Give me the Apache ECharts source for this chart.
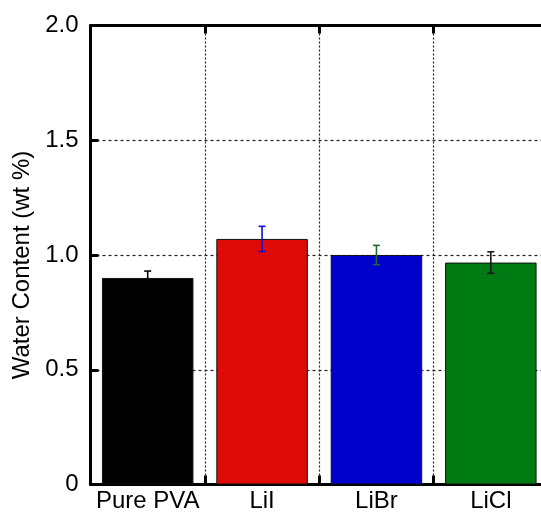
<!DOCTYPE html>
<html>
<head>
<meta charset="utf-8">
<script src="https://cdn.jsdelivr.net/npm/echarts@6/dist/echarts.min.js"></script>
<style>
  html, body { margin: 0; padding: 0; background: #fff; }
  #chart { width: 541px; height: 514px; }
</style>
</head>
<body>
<div id="chart"></div>
<script>
// Water content of PVA films with different lithium salts
const categories = ['Pure PVA', 'LiI', 'LiBr', 'LiCl'];
const waterContent = [0.90, 1.07, 1.00, 0.967];
const waterError = [0.03, 0.055, 0.042, 0.047];
const barColors = ['#000000', '#dd0a08', '#0000cc', '#007a12'];
const errorColors = ['#000000', '#1010e0', '#1d6b2c', '#1a1a1a'];
const yTicks = [0, 0.5, 1.0, 1.5, 2.0];

const FONT = 'Liberation Sans, Arial, sans-serif';
const chart = echarts.init(document.getElementById('chart'), null, { renderer: 'canvas' });

const errorData = categories.map((c, i) => [i, waterContent[i] - waterError[i], waterContent[i] + waterError[i]]);

chart.setOption({
  animation: false,
  backgroundColor: '#ffffff',
  grid: { left: 90.5, right: -7, top: 25.5, bottom: 29.5, containLabel: false, outerBoundsMode: 'none' },
  xAxis: [
    {
      type: 'category',
      data: categories,
      position: 'bottom',
      axisLine: { onZero: false, lineStyle: { color: '#000', width: 3 } },
      axisTick: { show: true, inside: true, interval: 0, length: 9, lineStyle: { color: '#000', width: 3 } },
      axisLabel: { color: '#000', fontSize: 24, fontFamily: FONT, margin: 5, interval: 0 },
      splitLine: { show: true, interval: 0, lineStyle: { color: '#222', width: 1.2, type: [2, 2] } }
    },
    {
      type: 'category',
      data: categories,
      position: 'top',
      axisLine: { onZero: false, lineStyle: { color: '#000', width: 3 } },
      axisTick: { show: true, inside: true, interval: 0, length: 8, lineStyle: { color: '#000', width: 3 } },
      axisLabel: { show: false },
      splitLine: { show: false }
    }
  ],
  yAxis: [
    {
      type: 'value',
      min: 0,
      max: 2.0,
      interval: 0.5,
      axisLine: { show: true, onZero: false, lineStyle: { color: '#000', width: 3 } },
      axisTick: { show: true, inside: true, length: 8, lineStyle: { color: '#000', width: 3 } },
      axisLabel: {
        color: '#000', fontSize: 24, fontFamily: FONT, margin: 12,
        formatter: v => {
          const t = yTicks.find(x => Math.abs(x - v) < 1e-9);
          return t === 0 ? '0' : t.toFixed(1);
        }
      },
      splitLine: { show: true, lineStyle: { color: '#222', width: 1.2, type: [3, 3] } },
      name: 'Water Content (wt %)',
      nameLocation: 'middle',
      nameGap: 55,
      nameRotate: 90,
      nameTextStyle: { color: '#000', fontSize: 24, fontFamily: FONT, padding: [0, 20, 0, 0] }
    },
    {
      type: 'value',
      min: 0,
      max: 2.0,
      interval: 0.5,
      position: 'right',
      axisLine: { show: true, onZero: false, lineStyle: { color: '#000', width: 3 } },
      axisTick: { show: false },
      axisLabel: { show: false },
      splitLine: { show: false }
    }
  ],
  series: [
    {
      type: 'bar',
      xAxisIndex: 0,
      yAxisIndex: 0,
      barWidth: '80%',
      data: waterContent.map((v, i) => ({
        value: v,
        itemStyle: { color: barColors[i], borderColor: '#111', borderWidth: 1 }
      })),
      z: 3
    },
    {
      type: 'custom',
      xAxisIndex: 0,
      yAxisIndex: 0,
      data: errorData,
      z: 4,
      renderItem: (params, api) => {
        const i = api.value(0);
        const lo = api.coord([i, api.value(1)]);
        const hi = api.coord([i, api.value(2)]);
        const hw = 3.5;
        const style = { stroke: errorColors[i], lineWidth: 1.6, fill: null };
        return {
          type: 'group',
          children: [
            { type: 'line', shape: { x1: hi[0], y1: hi[1], x2: lo[0], y2: lo[1] }, style },
            { type: 'line', shape: { x1: hi[0] - hw, y1: hi[1], x2: hi[0] + hw, y2: hi[1] }, style },
            { type: 'line', shape: { x1: lo[0] - hw, y1: lo[1], x2: lo[0] + hw, y2: lo[1] }, style }
          ]
        };
      }
    }
  ]
});
</script>
</body>
</html>
